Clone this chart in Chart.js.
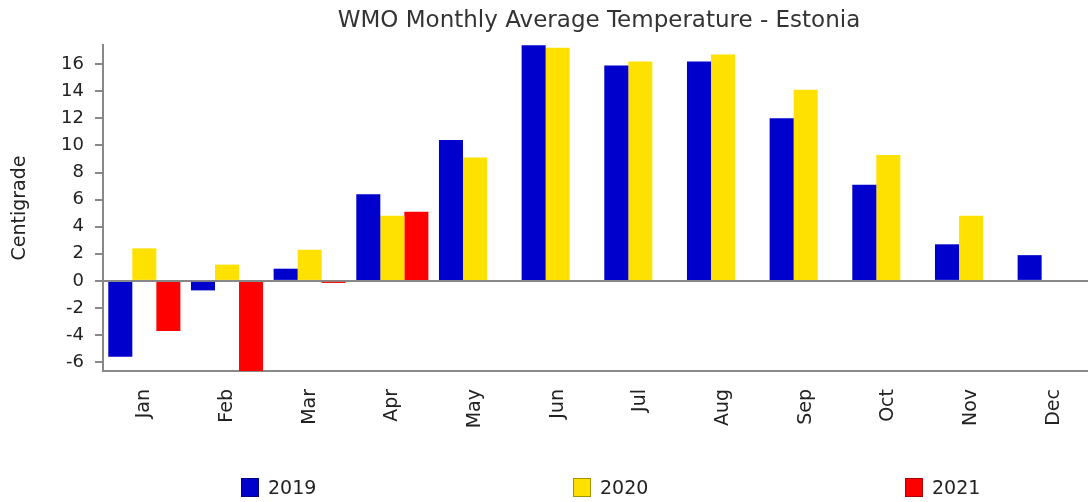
<!DOCTYPE html>
<html>
<head>
<meta charset="utf-8">
<script src="https://cdn.jsdelivr.net/npm/chart.js@4.4.0/dist/chart.umd.min.js"></script>
<style>
  html, body { margin: 0; padding: 0; overflow: hidden; background: #fff; }
  #wrap { position: relative; width: 1095px; height: 502px; }
  .legend-item { position: absolute; top: 476px; display: flex; align-items: center;
    font: 19px "DejaVu Sans", sans-serif; color: #222; }
  .legend-box { width: 16px; height: 17px; border: 1px solid rgba(0,0,0,0.35); margin-right: 9px; }
</style>
</head>
<body>
<div id="wrap"><canvas id="chart"></canvas></div>
<script>
// Monthly average temperatures (°C)
const months = ['Jan', 'Feb', 'Mar', 'Apr', 'May', 'Jun', 'Jul', 'Aug', 'Sep', 'Oct', 'Nov', 'Dec'];
const temps2019 = [-5.6, -0.7, 0.9, 6.4, 10.4, 17.4, 15.9, 16.2, 12.0, 7.1, 2.7, 1.9];
const temps2020 = [2.4, 1.2, 2.3, 4.8, 9.1, 17.2, 16.2, 16.7, 14.1, 9.3, 4.8, null];
const temps2021 = [-3.7, -7.0, -0.15, 5.1, null, null, null, null, null, null, null, null];
const yTicks = [-6, -4, -2, 0, 2, 4, 6, 8, 10, 12, 14, 16];

const series = [
  { label: '2019', data: temps2019, color: '#0000cc' },
  { label: '2020', data: temps2020, color: '#ffe100' },
  { label: '2021', data: temps2021, color: '#ff0000' }
];

const FONT = '"DejaVu Sans", sans-serif';

// title centred over the plot area
const titlePlugin = {
  id: 'areaTitle',
  afterDraw(chart) {
    const { ctx, chartArea } = chart;
    ctx.save();
    ctx.font = '23px ' + FONT;
    ctx.fillStyle = '#333';
    ctx.textAlign = 'center';
    ctx.textBaseline = 'middle';
    ctx.fillText('WMO Monthly Average Temperature - Estonia', (chartArea.left + chartArea.right) / 2, 21);
    ctx.restore();
  }
};

new Chart(document.getElementById('chart'), {
  type: 'bar',
  data: {
    labels: months,
    datasets: series.map(s => ({
      label: s.label,
      data: s.data,
      backgroundColor: s.color,
      borderWidth: 0,
      categoryPercentage: 0.872,
      barPercentage: 1
    }))
  },
  options: {
    responsive: true,
    maintainAspectRatio: false,
    animation: false,
    layout: { padding: { top: 45, right: 0, bottom: 0, left: 0 } },
    plugins: {
      legend: { display: false },
      title: { display: false },
      tooltip: { enabled: false }
    },
    scales: {
      x: {
        afterFit: s => { s.height = 131; },
        grid: { display: false },
        border: { display: true, color: '#888', width: 2 },
        ticks: {
          minRotation: 90,
          maxRotation: 90,
          padding: 10,
          color: '#222',
          font: { family: FONT, size: 19 }
        }
      },
      y: {
        min: -6.65,
        max: 17.41,
        afterFit: s => { s.width = 103; },
        afterBuildTicks: s => { s.ticks = yTicks.map(v => ({ value: v })); },
        border: { display: true, color: '#888', width: 2 },
        grid: {
          drawOnChartArea: true,
          drawTicks: true,
          tickLength: 8,
          tickColor: '#888',
          tickWidth: 2,
          lineWidth: 2,
          color: c => (c.tick && c.tick.value === 0 ? '#888' : 'rgba(0,0,0,0)')
        },
        ticks: {
          padding: 11,
          color: '#222',
          font: { family: FONT, size: 18 }
        },
        title: {
          display: true,
          text: 'Centigrade',
          color: '#222',
          padding: { top: 9, bottom: 0 },
          font: { family: FONT, size: 19 }
        }
      }
    }
  },
  plugins: [titlePlugin]
});

// legend as plain text below the chart, widely spaced like the reference
const wrap = document.getElementById('wrap');
series.forEach((s, i) => {
  const item = document.createElement('div');
  item.className = 'legend-item';
  item.style.left = (241 + i * 332) + 'px';
  const box = document.createElement('span');
  box.className = 'legend-box';
  box.style.background = s.color;
  const txt = document.createElement('span');
  txt.textContent = s.label;
  item.appendChild(box);
  item.appendChild(txt);
  wrap.appendChild(item);
});
</script>
</body>
</html>
